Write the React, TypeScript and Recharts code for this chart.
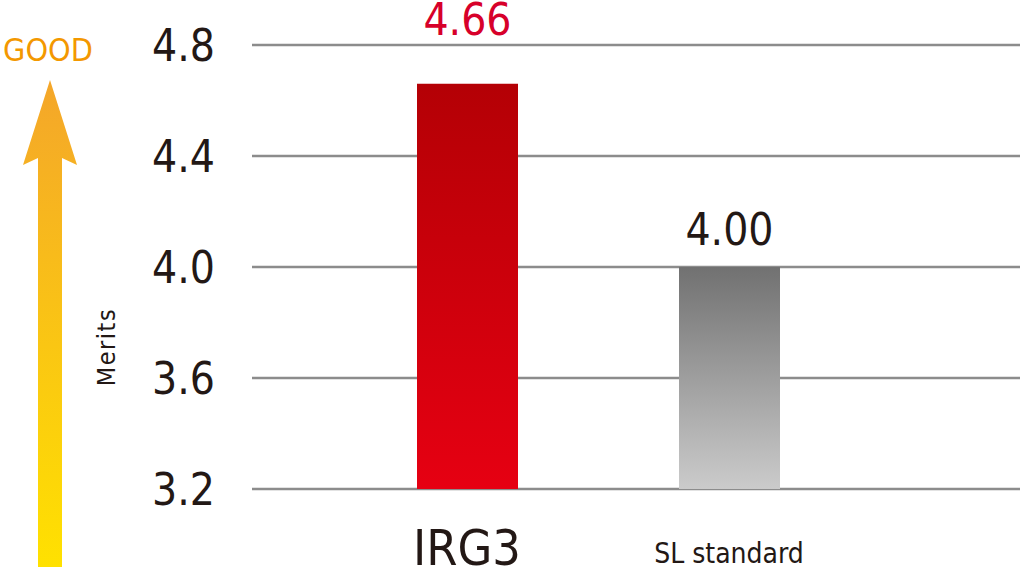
import React from 'react';
import {
  BarChart,
  Bar,
  XAxis,
  YAxis,
  CartesianGrid,
  Cell,
  LabelList,
} from 'recharts';

const categories = ['IRG3', 'SL standard'];
const merits = [4.66, 4.0];
const yTicks = [3.2, 3.6, 4.0, 4.4, 4.8];

const data = categories.map((name, i) => ({ name, value: merits[i] }));

const FONT = '"DejaVu Sans Condensed", "Liberation Sans Narrow", Roboto, sans-serif';
const INK = '#231815';
const fills = ['url(#redGrad)', 'url(#grayGrad)'];
const labelColors = ['#d7002a', INK];
const labelGaps = [49, 22];

const CategoryTick = ({ x, payload }: any) => {
  const big = payload.value === 'IRG3';
  return (
    <text
      x={x}
      y={big ? 565 : 563}
      textAnchor="middle"
      fontFamily={FONT}
      fontSize={big ? 50 : 28}
      fill={INK}
    >
      {payload.value}
    </text>
  );
};

const ValueLabel = (props: any) => {
  const { x, y, width, index, value } = props;
  return (
    <text
      x={x + width / 2}
      y={y - labelGaps[index]}
      textAnchor="middle"
      fontFamily={FONT}
      fontSize={44}
      fill={labelColors[index]}
    >
      {Number(value).toFixed(2)}
    </text>
  );
};

export default function App() {
  return (
    <div style={{ position: 'absolute', left: 0, top: 0, width: 1020, height: 567, background: '#fff' }}>
      <svg width={130} height={567} style={{ position: 'absolute', left: 0, top: 0 }}>
        <defs>
          <linearGradient id="arrowGrad" x1="0" y1="0" x2="0" y2="1">
            <stop offset="0%" stopColor="#f4a62a" />
            <stop offset="100%" stopColor="#ffe100" />
          </linearGradient>
        </defs>
        <text x={48} y={61} textAnchor="middle" fontFamily={FONT} fontSize={32} fill="#f39800">
          GOOD
        </text>
        <path
          d="M50 80 L77 165 L62 158 L62 567 L38 567 L38 158 L23 165 Z"
          fill="url(#arrowGrad)"
        />
        <text
          transform="translate(115 347) rotate(-90)"
          textAnchor="middle"
          fontFamily={FONT}
          fontSize={25}
          letterSpacing={1.5}
          fill={INK}
        >
          Merits
        </text>
      </svg>
      <BarChart
        width={1020}
        height={567}
        data={data}
        margin={{ top: 45, right: 0, bottom: 0, left: 0 }}
      >
        <defs>
          <linearGradient id="redGrad" x1="0" y1="0" x2="0" y2="1">
            <stop offset="0%" stopColor="#b40005" />
            <stop offset="100%" stopColor="#e60012" />
          </linearGradient>
          <linearGradient id="grayGrad" x1="0" y1="0" x2="0" y2="1">
            <stop offset="0%" stopColor="#717171" />
            <stop offset="100%" stopColor="#cbcbcb" />
          </linearGradient>
        </defs>
        <CartesianGrid vertical={false} stroke="#8c8c8c" strokeWidth={2.5} />
        <XAxis
          dataKey="name"
          height={78}
          axisLine={false}
          tickLine={false}
          padding={{ left: 84, right: 160 }}
          tick={<CategoryTick />}
          interval={0}
        />
        <YAxis
          width={252}
          domain={[3.2, 4.8]}
          ticks={yTicks}
          axisLine={false}
          tickLine={false}
          tickSize={0}
          tickMargin={37}
          tickFormatter={(v: number) => v.toFixed(1)}
          tick={{ fontFamily: FONT, fontSize: 44, fill: INK }}
        />
        <Bar dataKey="value" barSize={101} isAnimationActive={false}>
          {data.map((entry, index) => (
            <Cell key={`cell-${index}`} fill={fills[index]} />
          ))}
          <LabelList dataKey="value" content={<ValueLabel />} />
        </Bar>
      </BarChart>
    </div>
  );
}
